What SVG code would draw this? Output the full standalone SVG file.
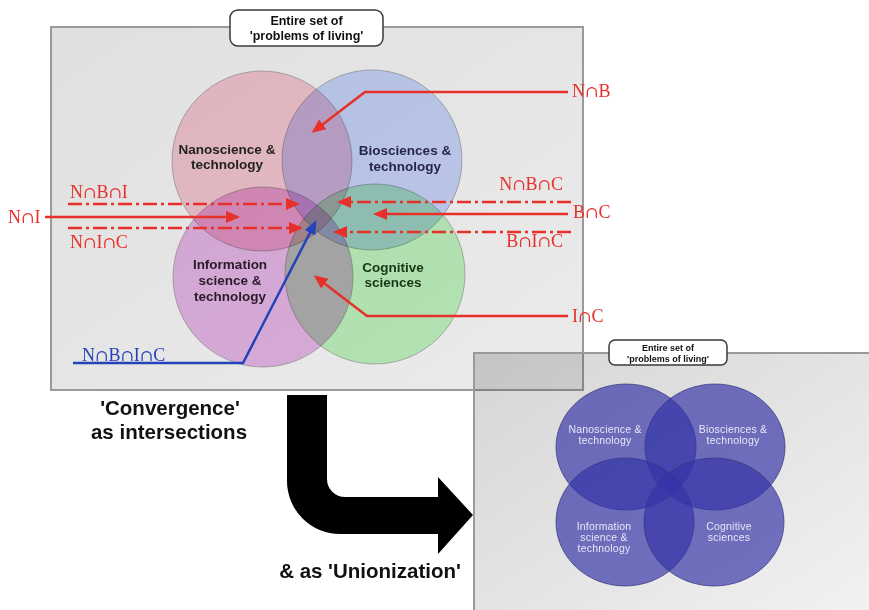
<svg xmlns="http://www.w3.org/2000/svg" width="869" height="610" viewBox="0 0 869 610">
  <defs>
    <linearGradient id="panelMain" x1="0" y1="0" x2="1" y2="1">
      <stop offset="0" stop-color="#e0e0e0"/>
      <stop offset="1" stop-color="#ebebeb"/>
    </linearGradient>
    <linearGradient id="panelUnion" x1="0" y1="0" x2="1" y2="1">
      <stop offset="0" stop-color="#303030" stop-opacity="0.2"/>
      <stop offset="1" stop-color="#303030" stop-opacity="0.06"/>
    </linearGradient>
    <marker id="ahRed" viewBox="0 0 14 12" refX="11" refY="6" markerWidth="14" markerHeight="12" markerUnits="userSpaceOnUse" orient="auto">
      <path d="M0,0 L14,6 L0,12 Z" fill="#e8302a"/>
    </marker>
    <marker id="ahBlue" viewBox="0 0 14 12" refX="11" refY="6" markerWidth="14" markerHeight="12" markerUnits="userSpaceOnUse" orient="auto">
      <path d="M0,0 L14,6 L0,12 Z" fill="#2443b8"/>
    </marker>
  </defs>
  <style>
    .panel { stroke: #9a9a9a; stroke-width: 2; }
    .tag { fill: #ffffff; stroke: #3a3a3a; stroke-width: 1.5; }
    .tagText { font-family: "Liberation Sans", Arial, sans-serif; font-weight: bold; fill: #111; text-anchor: middle; }
    .set { mix-blend-mode: multiply; stroke: #8c8c8c; stroke-opacity: 0.6; stroke-width: 1; }
    .setLabel { font-family: "Liberation Sans", Arial, sans-serif; font-weight: bold; font-size: 13.5px; text-anchor: middle; }
    .uSet { fill: #3333a8; fill-opacity: 0.68; stroke: #33337a; stroke-opacity: 0.7; stroke-width: 1; }
    .uLabel { font-family: "Liberation Sans", Arial, sans-serif; font-size: 10.5px; fill: #e6e6f6; text-anchor: middle; letter-spacing: 0.2px; }
    .red { fill: none; stroke: #e8302a; stroke-width: 2.5; marker-end: url(#ahRed); }
    .dashdot { stroke-dasharray: 14 4 3 4; }
    .blue { fill: none; stroke: #2443b8; stroke-width: 2.5; marker-end: url(#ahBlue); }
    .redText { font-family: "Liberation Serif", "Times New Roman", serif; font-size: 18px; fill: #e8302a; }
    .blueText { font-family: "Liberation Serif", "Times New Roman", serif; font-size: 18px; fill: #2443b8; }
    .cap { font-family: "DejaVu Serif", serif; font-size: 16px; }
    .caption { font-family: "Liberation Sans", Arial, sans-serif; font-weight: bold; font-size: 20.5px; fill: #111; }
  </style>

  <rect width="869" height="610" fill="#ffffff"/>

  <!-- intersections panel -->
  <g id="panel-intersections">
    <rect class="panel" x="51" y="27" width="532" height="363" fill="url(#panelMain)"/>
  </g>

  <!-- union panel, translucent so the overlap with the first panel reads darker -->
  <g id="panel-union">
    <rect class="panel" x="474" y="353" width="410" height="270" fill="url(#panelUnion)" stroke="#8a8a8a"/>
  </g>

  <g id="tag-main">
    <rect class="tag" x="230" y="10" width="153" height="36" rx="8"/>
    <text class="tagText" font-size="12.5" x="306.5" y="25">Entire set of</text>
    <text class="tagText" font-size="12.5" x="306.5" y="40">'problems of living'</text>
  </g>

  <!-- four-set Venn diagram -->
  <g id="venn">
    <g id="set-nano"><circle class="set" cx="262" cy="161" r="90" fill="#fbcdd7"/></g>
    <g id="set-bio"><circle class="set" cx="372" cy="160" r="90" fill="#ccd9ff"/></g>
    <g id="set-info"><circle class="set" cx="263" cy="277" r="90" fill="#ebbaeb"/></g>
    <g id="set-cog"><circle class="set" cx="375" cy="274" r="90" fill="#c3f8c3"/></g>
  </g>
  <g id="venn-labels">
    <text class="setLabel" fill="#222" x="227" y="154">Nanoscience &amp;</text>
    <text class="setLabel" fill="#222" x="227" y="169">technology</text>
    <text class="setLabel" fill="#26264c" x="405" y="155">Biosciences &amp;</text>
    <text class="setLabel" fill="#26264c" x="405" y="171">technology</text>
    <text class="setLabel" fill="#2a1a2a" x="230" y="269">Information</text>
    <text class="setLabel" fill="#2a1a2a" x="230" y="285">science &amp;</text>
    <text class="setLabel" fill="#2a1a2a" x="230" y="301">technology</text>
    <text class="setLabel" fill="#163616" x="393" y="272">Cognitive</text>
    <text class="setLabel" fill="#163616" x="393" y="287">sciences</text>
  </g>

  <!-- pointers to the intersections -->
  <g id="connectors">
    <path class="red" d="M568,92 H365 L314,131"/>
    <path class="red" d="M45,217 H237"/>
    <path class="red dashdot" d="M68,204 H297"/>
    <path class="red dashdot" d="M68,228 H300"/>
    <path class="red dashdot" d="M571,202 H340"/>
    <path class="red" d="M568,214 H376"/>
    <path class="red dashdot" d="M571,232 H336"/>
    <path class="red" d="M568,316 H367 L316,277"/>
    <path class="blue" d="M73,363 H243 L315,223"/>
  </g>
  <g id="intersection-labels">
    <text class="redText" x="572" y="97">N<tspan class="cap">∩</tspan>B</text>
    <text class="redText" x="8" y="223">N<tspan class="cap">∩</tspan>I</text>
    <text class="redText" x="70" y="198">N<tspan class="cap">∩</tspan>B<tspan class="cap">∩</tspan>I</text>
    <text class="redText" x="70" y="248">N<tspan class="cap">∩</tspan>I<tspan class="cap">∩</tspan>C</text>
    <text class="redText" x="563" y="190" text-anchor="end">N<tspan class="cap">∩</tspan>B<tspan class="cap">∩</tspan>C</text>
    <text class="redText" x="573" y="218">B<tspan class="cap">∩</tspan>C</text>
    <text class="redText" x="563" y="247" text-anchor="end">B<tspan class="cap">∩</tspan>I<tspan class="cap">∩</tspan>C</text>
    <text class="redText" x="572" y="322">I<tspan class="cap">∩</tspan>C</text>
    <text class="blueText" x="82" y="361">N<tspan class="cap">∩</tspan>B<tspan class="cap">∩</tspan>I<tspan class="cap">∩</tspan>C</text>
  </g>

  <!-- transition arrow -->
  <g id="turn-arrow">
    <path d="M287,395 H327 V479 A18,18 0 0 0 345,497 H438 V477 L473,515 L438,554 V534 H340 A53,53 0 0 1 287,481 Z" fill="#000"/>
  </g>
  <g id="captions">
    <text class="caption" x="170" y="415" text-anchor="middle">'Convergence'</text>
    <text class="caption" x="169" y="439" text-anchor="middle">as intersections</text>
    <text class="caption" x="370" y="578" text-anchor="middle">&amp; as 'Unionization'</text>
  </g>

  <g id="tag-union">
    <rect class="tag" x="609" y="340" width="118" height="25" rx="6" stroke-width="1.2"/>
    <text class="tagText" font-size="9" x="668" y="350.5">Entire set of</text>
    <text class="tagText" font-size="9" x="668" y="361.5">'problems of living'</text>
  </g>

  <!-- union view -->
  <g id="union">
    <g id="u-nano"><ellipse class="uSet" cx="626" cy="447" rx="70" ry="63"/></g>
    <g id="u-bio"><ellipse class="uSet" cx="715" cy="447" rx="70" ry="63"/></g>
    <g id="u-info"><ellipse class="uSet" cx="625" cy="522" rx="69" ry="64"/></g>
    <g id="u-cog"><ellipse class="uSet" cx="714" cy="522" rx="70" ry="64"/></g>
  </g>
  <g id="union-labels">
    <text class="uLabel" x="605" y="433">Nanoscience &amp;</text>
    <text class="uLabel" x="605" y="444">technology</text>
    <text class="uLabel" x="733" y="433">Biosciences &amp;</text>
    <text class="uLabel" x="733" y="444">technology</text>
    <text class="uLabel" x="604" y="530">Information</text>
    <text class="uLabel" x="604" y="541">science &amp;</text>
    <text class="uLabel" x="604" y="552">technology</text>
    <text class="uLabel" x="729" y="530">Cognitive</text>
    <text class="uLabel" x="729" y="541">sciences</text>
  </g>
</svg>
